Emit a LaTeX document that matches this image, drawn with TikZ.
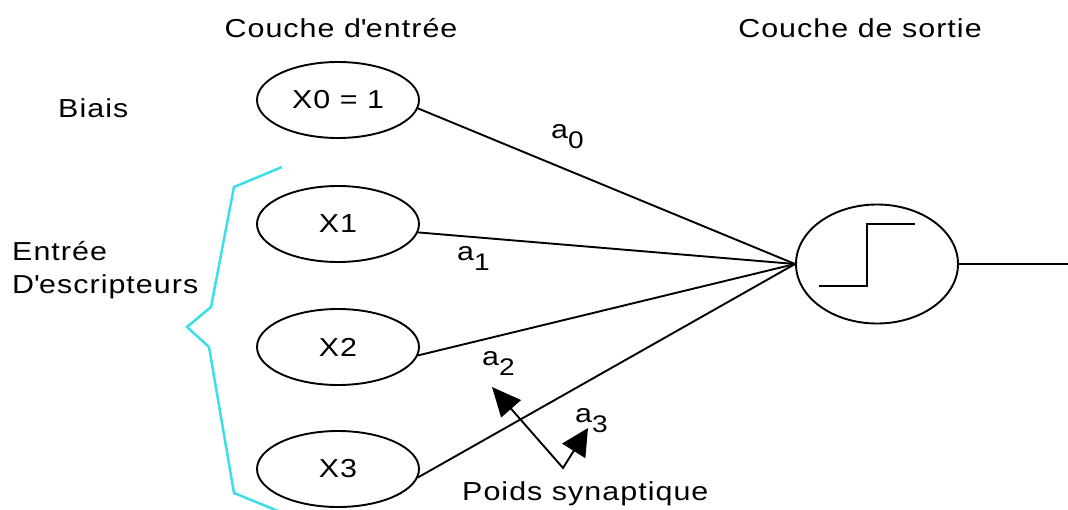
\documentclass[tikz,border=0pt]{standalone}
\usepackage{fontspec}
\setmainfont{Liberation Sans}[FakeStretch=1.17,LetterSpace=4]
\usetikzlibrary{shapes.geometric,arrows.meta}
\definecolor{brace}{RGB}{60,222,232}
\newcommand\wlab[2]{#1\raisebox{-10pt}{\fontsize{24}{24}\selectfont #2}}
\tikzset{
  neuron/.style={draw, ellipse, line width=1.9pt, minimum width=162pt, minimum height=76pt, inner sep=0pt},
  outneuron/.style={draw, ellipse, line width=1.9pt, minimum width=162pt, minimum height=119pt, inner sep=0pt},
  txt/.style={inner sep=0pt, anchor=base west},
  ctxt/.style={inner sep=0pt, anchor=base},
  link/.style={line width=1.9pt},
  bracestyle/.style={draw=brace, line width=2.5pt},
  ptr/.style={line width=1.9pt, {Triangle[length=29pt,width=26pt]}-{Triangle[length=27pt,width=27pt]}}
}
\begin{document}
\begin{tikzpicture}[x=1pt, y=-1pt, font=\fontsize{26}{33}\selectfont]
\useasboundingbox (0,0) rectangle (1068,509);
% titles
\node[ctxt] (tin) at (341,37) {Couche d\textquotesingle entrée};
\node[ctxt] (tout) at (860,37) {Couche de sortie};
\node[txt] (biais) at (58,117) {Biais};
\node[txt] (ent1) at (12,260) {Entrée};
\node[txt] (ent2) at (12,293) {D\textquotesingle escripteurs};
\node[txt] (poids) at (462,500) {Poids synaptique};
% input neurons
\node[neuron] (x0) at (338,100) {X0 = 1};
\node[neuron] (x1) at (338,224) {X1};
\node[neuron] (x2) at (338,347) {X2};
\node[neuron] (x3) at (338,469) {X3};
% output neuron
\node[outneuron] (out) at (877,264) {};
\draw[link] (819,286) -- (867,286) -- (867,224) -- (915,224);
\coordinate (outend) at (1068,264);
\draw[link] (out.east) -- (outend);
% connections
\foreach \n in {x0,x1,x2,x3} \draw[link] (\n.-6) -- (out.west);
% weights
\node[txt] (a0) at (551,138) {\wlab{a}{0}};
\node[txt] (a1) at (457,260) {\wlab{a}{1}};
\node[txt] (a2) at (482,365) {\wlab{a}{2}};
\node[txt] (a3) at (575,422) {\wlab{a}{3}};
% pointer
\coordinate (p2) at (492,387);
\coordinate (pv) at (563,468);
\coordinate (p3) at (588,428);
\draw[ptr] (p2) -- (pv) -- (p3);
% brace
\draw[bracestyle] (282,167) -- (234,187) -- (211,307) -- (187,327) -- (209,347) -- (234,493) -- (283,513);
\end{tikzpicture}
\end{document}
